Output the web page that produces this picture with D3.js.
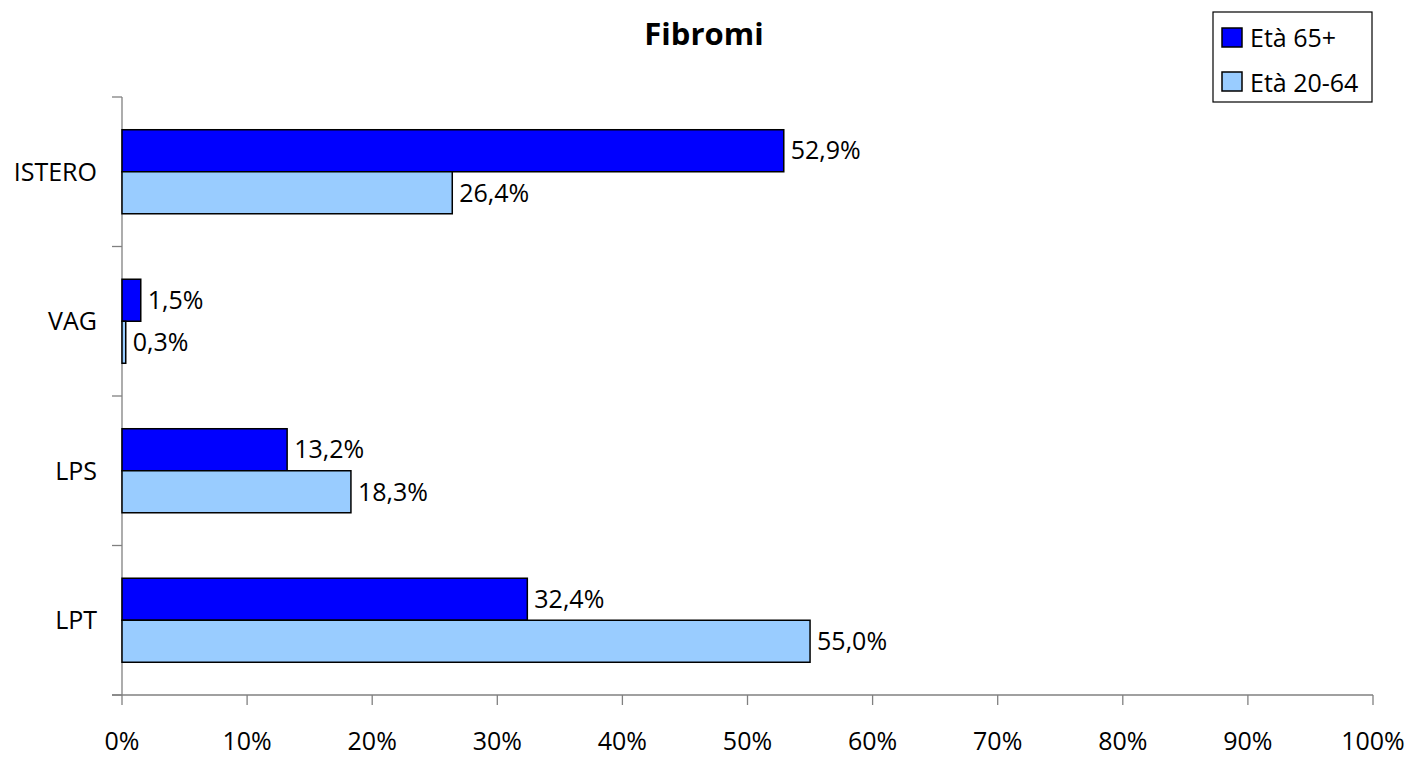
<!DOCTYPE html>
<html><head><meta charset="utf-8">
<script src="https://d3js.org/d3.v7.min.js"></script>
<style>body{margin:0;background:#fff}svg{display:block}text{font-family:"Open Sans","Noto Sans",sans-serif}</style>
</head><body><svg id="c" width="1409" height="758"></svg>
<script>
const categories = ["ISTERO","VAG","LPS","LPT"];
const seriesNames = ["Età 65+","Età 20-64"];
const values65 = [52.9, 1.5, 13.2, 32.4];
const values2064 = [26.4, 0.3, 18.3, 55.0];
const colors = ["#0000FF","#99CCFF"];
const xTicks = [0,10,20,30,40,50,60,70,80,90,100];
const title = "Fibromi";

(function(){
const svg = d3.select("#c");
const pL=122, pR=1373, pT=97, pB=695;
const FS = 25;
const x = d3.scaleLinear().domain([0,100]).range([pL,pR]);
const y = d3.scaleBand().domain(categories).range([pT,pB]).paddingInner(0.438).paddingOuter(0.219);
const sub = d3.scaleBand().domain([0,1]).range([0,y.bandwidth()]);
const fmt = v => v.toFixed(1).replace(".",",")+"%";

svg.append("text").attr("x",704).attr("y",45).attr("text-anchor","middle")
  .attr("font-size",31).attr("font-weight","bold").text(title);

const yEdges = categories.map(c => y(c) - y.step()*y.paddingInner()/2).concat([pB]);
svg.append("line").attr("x1",pL).attr("x2",pL).attr("y1",pT).attr("y2",pB).attr("stroke","#808080").attr("stroke-width",1.3);
svg.selectAll(".yt").data(yEdges).join("line").attr("x1",pL-10).attr("x2",pL)
  .attr("y1",d=>d).attr("y2",d=>d).attr("stroke","#808080").attr("stroke-width",1.3);
svg.append("line").attr("x1",pL-10).attr("x2",pR).attr("y1",pB).attr("y2",pB).attr("stroke","#808080").attr("stroke-width",1.3);
svg.selectAll(".xt").data(xTicks).join("line").attr("x1",d=>x(d)).attr("x2",d=>x(d))
  .attr("y1",pB).attr("y2",pB+10).attr("stroke","#808080").attr("stroke-width",1.3);
svg.selectAll(".xl").data(xTicks).join("text").attr("x",d=>x(d)).attr("y",750)
  .attr("text-anchor","middle").attr("font-size",FS).text(d=>d+"%");
svg.selectAll(".yl").data(categories).join("text").attr("x",97).attr("y",d=>y(d)+y.bandwidth()/2)
  .attr("dy","0.35em").attr("text-anchor","end").attr("font-size",FS).text(d=>d);

const series = [values65, values2064];
series.forEach((vals,i)=>{
  const g = svg.append("g");
  g.selectAll("rect").data(categories).join("rect")
    .attr("x",x(0)).attr("y",(c)=>y(c)+sub(i)).attr("width",(c,j)=>x(vals[j])-x(0))
    .attr("height",sub.bandwidth()).attr("fill",colors[i]).attr("stroke","#000").attr("stroke-width",1.5);
  g.selectAll("text").data(categories).join("text")
    .attr("x",(c,j)=>x(vals[j])+7).attr("y",c=>y(c)+sub(i)+sub.bandwidth()/2).attr("dy","0.35em")
    .attr("font-size",FS).text((c,j)=>fmt(vals[j]));
});

const lg = svg.append("g");
lg.append("rect").attr("x",1213).attr("y",12).attr("width",159).attr("height",90).attr("fill","#fff").attr("stroke","#000").attr("stroke-width",1.2);
seriesNames.forEach((n,i)=>{
  lg.append("rect").attr("x",1222).attr("y",28+i*44).attr("width",20).attr("height",19)
    .attr("fill",colors[i]).attr("stroke","#000").attr("stroke-width",1.5);
  lg.append("text").attr("x",1250).attr("y",47+i*45).attr("font-size",FS).text(n);
});
})();
</script></body></html>
